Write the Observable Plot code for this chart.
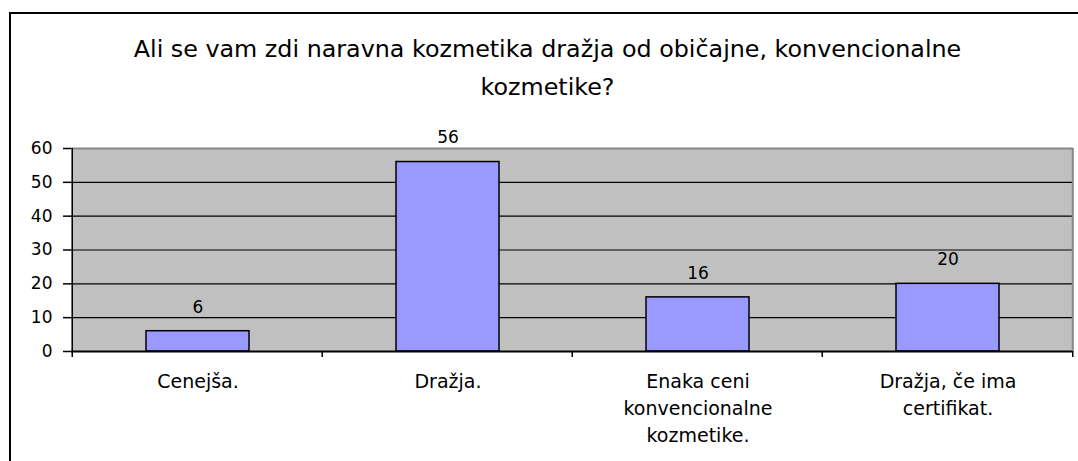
<!DOCTYPE html>
<html>
<head>
<meta charset="utf-8">
<script src="https://cdn.jsdelivr.net/npm/d3@7"></script>
<script src="https://cdn.jsdelivr.net/npm/@observablehq/plot@0.6"></script>
<style>
  html, body { margin: 0; padding: 0; background: #fff; overflow: hidden; }
  #wrap { position: relative; width: 1078px; height: 461px; }
  #border { position: absolute; left: 9px; top: 12px; width: 3000px; height: 3000px;
            border-left: 2px solid #000; border-top: 2px solid #000; box-sizing: border-box; }
  #chart { position: absolute; left: 0; top: 0; }
</style>
</head>
<body>
<div id="wrap"><div id="border"></div><div id="chart"></div></div>
<script>
const titleText = "Ali se vam zdi naravna kozmetika dražja od običajne, konvencionalne\nkozmetike?";
const categories = ["Cenejša.", "Dražja.", "Enaka ceni konvencionalne kozmetike.", "Dražja, če ima certifikat."];
const categoryLabels = ["Cenejša.", "Dražja.", "Enaka ceni\nkonvencionalne\nkozmetike.", "Dražja, če ima\ncertifikat."];
const values = [6, 56, 16, 20];
const yTicks = [0, 10, 20, 30, 40, 50, 60];
const gridValues = [10, 20, 30, 40, 50];

const data = categories.map((c, i) => ({category: c, label: categoryLabels[i], value: values[i]}));
const font = "DejaVu Sans, Verdana, sans-serif";

const W = 1078, H = 461, mL = 71, mR = 5, mT = 148, mB = 110;
const step = (W - mL - mR) / categories.length;

// boundary ticks and frame edges drawn through the x scale
function boundaryMarks(index, scales, values, dims) {
  const g = d3.create("svg:g");
  const x = scales.x;
  const bottom = dims.height - dims.marginBottom;
  const top = dims.marginTop;
  const bounds = categories.map(c => x(c) + x.bandwidth() / 2 - step / 2);
  bounds.push(x(categories[categories.length - 1]) + x.bandwidth() / 2 + step / 2);
  g.append("line").attr("x1", bounds[bounds.length - 1]).attr("x2", bounds[bounds.length - 1])
    .attr("y1", top).attr("y2", bottom).attr("stroke", "#888").attr("stroke-width", 2);
  g.append("line").attr("x1", bounds[0]).attr("x2", bounds[0])
    .attr("y1", top).attr("y2", bottom + 6).attr("stroke", "#000").attr("stroke-width", 1.5);
  for (const b of bounds.slice(1)) {
    g.append("line").attr("x1", b).attr("x2", b)
      .attr("y1", bottom).attr("y2", bottom + 6).attr("stroke", "#000").attr("stroke-width", 1.5);
  }
  return g.node();
}

const chart = Plot.plot({
  width: W,
  height: H,
  marginLeft: mL,
  marginRight: mR,
  marginTop: mT,
  marginBottom: mB,
  style: {fontFamily: font, background: "transparent", color: "#000"},
  x: {domain: categories, paddingInner: 0.59, paddingOuter: 0.295, axis: null},
  y: {domain: [0, 60], axis: null},
  marks: [
    Plot.frame({fill: "#c0c0c0", stroke: null}),
    Plot.ruleY(gridValues, {stroke: "#000", strokeWidth: 1.2}),
    Plot.ruleY([60], {stroke: "#888", strokeWidth: 2}),
    Plot.barY(data, {x: "category", y: "value", fill: "#9999ff", stroke: "#000", strokeWidth: 1.5}),
    Plot.ruleY([0], {stroke: "#000", strokeWidth: 2}),
    boundaryMarks,
    Plot.axisY({ticks: yTicks, tickSize: 8, tickPadding: 11, fontSize: 17, stroke: "#000", strokeWidth: 1.5, fill: "#000", label: null}),
    Plot.text(data, {x: "category", y: "value", text: d => String(d.value), dy: -24, fontSize: 17, fill: "#000", lineAnchor: "middle"}),
    Plot.text(data, {x: "category", text: "label", frameAnchor: "bottom", lineAnchor: "top", dy: 17, lineHeight: 1.42, fontSize: 19, fill: "#000"}),
    Plot.text([titleText], {text: d => d, frameAnchor: "top", lineAnchor: "middle", dx: -25, dy: -85, lineHeight: 1.6, fontSize: 23.8, fill: "#000"})
  ]
});
document.getElementById("chart").appendChild(chart);
</script>
</body>
</html>
